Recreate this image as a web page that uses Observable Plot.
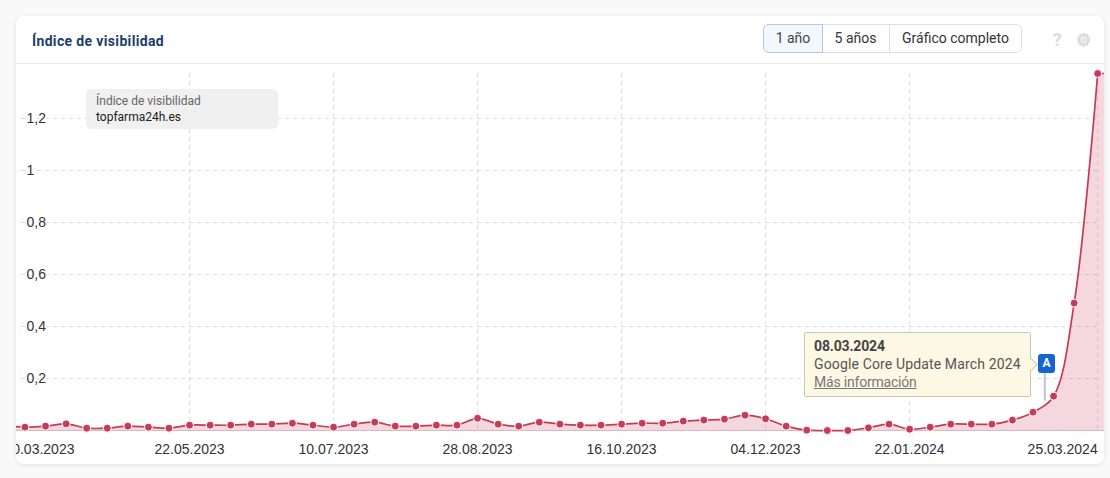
<!DOCTYPE html>
<html lang="es">
<head>
<meta charset="utf-8">
<script src="https://cdn.jsdelivr.net/npm/d3@7"></script>
<script src="https://cdn.jsdelivr.net/npm/@observablehq/plot@0.6"></script>
<style>
html,body{margin:0;padding:0;background:#f9f9f9;width:1110px;height:478px;overflow:hidden;font-family:Roboto,sans-serif}
#card{position:absolute;left:16px;top:16px;width:1088px;height:448px;background:#fff;border-radius:8px;box-shadow:0 1px 4px rgba(0,0,0,.1)}
#head{position:absolute;left:16px;top:16px;width:1088px;height:48px;box-sizing:border-box;border-bottom:1px solid #ececec}
#title{position:absolute;left:32px;top:32px;font:700 14px/18px Roboto,sans-serif;color:#1c3d6b;letter-spacing:.35px}
#chart{position:absolute;left:0;top:0}
#chart svg{display:block;clip-path:inset(16px 6px 14px 16px round 8px)}
.btn{position:absolute;top:24px;height:29px;box-sizing:border-box;border:1px solid #dfdfdf;font:14px/27px Roboto,sans-serif;color:#333;text-align:center;background:#fff}
#b1{left:763px;width:60px;border-color:#a9c9ef;background:#f3f8fe;border-radius:6px 0 0 6px;color:#444;z-index:1}
#b2{left:822px;width:68px;border-left:none}
#b3{left:889px;width:133px;border-radius:0 6px 6px 0}
#q{position:absolute;left:1052.5px;top:29.5px;font:700 19px/20px Roboto,sans-serif;color:#ddd}
#g{position:absolute;left:1076px;top:29px;font:17px/22px "DejaVu Sans",sans-serif;color:#ddd;-webkit-text-stroke:1.2px #ddd}
#legend{position:absolute;left:86px;top:89px;width:192px;height:40px;box-sizing:border-box;background:#f0f0f0;border-radius:5px;padding:4px 10px;font:12px/16px Roboto,sans-serif;color:#666}
#legend b{display:block;font-weight:400;color:#222}
#tip{position:absolute;left:804px;top:332px;width:227px;height:65px;box-sizing:border-box;background:#fdf8e4;border:1px solid #c6c5b6;border-radius:2px;padding:4px 9px;font:14px/18px Roboto,sans-serif;color:#555;white-space:nowrap;letter-spacing:.14px}
#tip strong{display:block;color:#444;letter-spacing:-.15px}
#tip u{color:#777;letter-spacing:-.2px}
#arrow{position:absolute;left:1026.5px;top:360px;width:8px;height:8px;background:#fdf8e4;border-top:1px solid #c6c5b6;border-right:1px solid #c6c5b6;transform:rotate(45deg)}
#flag{position:absolute;left:1038px;top:354px;width:17px;height:19px;background:#1366d0;border-radius:3px;color:#fff;font:700 12px/19px Roboto,sans-serif;text-align:center}
</style>
</head>
<body>
<div id="card"></div>
<div id="head"></div>
<div id="chart"></div>
<div id="title">Índice de visibilidad</div>
<div class="btn" id="b1">1 año</div>
<div class="btn" id="b2">5 años</div>
<div class="btn" id="b3">Gráfico completo</div>
<div id="q">?</div>
<div id="g">⚙</div>
<div id="legend">Índice de visibilidad<b>topfarma24h.es</b></div>
<div id="tip"><strong>08.03.2024</strong>Google Core Update March 2024<br><u>Más información</u></div>
<div id="arrow"></div>
<div id="flag">A</div>
<script>
const dates = ["2023-03-20","2023-03-27","2023-04-03","2023-04-10","2023-04-17","2023-04-24","2023-05-01","2023-05-08","2023-05-15","2023-05-22","2023-05-29","2023-06-05","2023-06-12","2023-06-19","2023-06-26","2023-07-03","2023-07-10","2023-07-17","2023-07-24","2023-07-31","2023-08-07","2023-08-14","2023-08-21","2023-08-28","2023-09-04","2023-09-11","2023-09-18","2023-09-25","2023-10-02","2023-10-09","2023-10-16","2023-10-23","2023-10-30","2023-11-06","2023-11-13","2023-11-20","2023-11-27","2023-12-04","2023-12-11","2023-12-18","2023-12-25","2024-01-01","2024-01-08","2024-01-15","2024-01-22","2024-01-29","2024-02-05","2024-02-12","2024-02-19","2024-02-26","2024-03-04","2024-03-11","2024-03-18","2024-03-26"];
const values = [0.019,0.0128,0.0167,0.0256,0.009,0.009,0.0167,0.0128,0.009,0.0205,0.0205,0.0205,0.0244,0.0244,0.028,0.0205,0.0128,0.0244,0.032,0.0167,0.0167,0.0205,0.0205,0.047,0.0244,0.0167,0.032,0.0244,0.0205,0.0205,0.0244,0.028,0.028,0.036,0.04,0.0436,0.059,0.045,0.0167,0.0013,0,0,0.0103,0.0244,0.005,0.0128,0.0244,0.0244,0.0244,0.04,0.0705,0.132,0.49,1.373];
const tailDates = ["2024-03-26","2024-04-02"];
const tailValues = [1.373,1.373];
const tickDates = ["2023-03-20","2023-05-22","2023-07-10","2023-08-28","2023-10-16","2023-12-04","2024-01-22","2024-03-26"];
const tickLabels = ["20.03.2023","22.05.2023","10.07.2023","28.08.2023","16.10.2023","04.12.2023","22.01.2024","25.03.2024"];
const yTicks = [0.2,0.4,0.6,0.8,1,1.2];
const yLabels = ["0,2","0,4","0,6","0,8","1","1,2"];
const eventDate = "2024-03-08";
const eventStem = [0.113,0.22];

const d = s => new Date(s + "T00:00:00Z");
const rows = dates.map((s,i) => ({date:d(s), value:values[i]}));
const tail = tailDates.map((s,i) => ({date:d(s), value:tailValues[i]}));
const ticks = tickDates.map((s,i) => ({date:d(s), label:tickLabels[i]}));
const yRows = yTicks.map((v,i) => ({v, label:yLabels[i]}));
const red = "#c63c58";
const grid = {stroke:"#dcdcdc", strokeDasharray:"4 4"};
const xText = {x:"date", y:()=>0, text:"label", dy:19, fill:"#333"};

const plot = Plot.plot({
  width:1110, height:478,
  marginLeft:21, marginRight:12, marginTop:73, marginBottom:48,
  style:{background:"transparent", fontFamily:"'Liberation Sans',Arial,sans-serif", fontSize:"14px"},
  x:{type:"utc", domain:[d("2023-03-20"), d("2024-01-22")], range:[3.9,909.1], axis:null},
  y:{domain:[0,1.373], axis:null},
  marks:[
    Plot.ruleY(yRows,{y:"v", ...grid}),
    Plot.ruleX(ticks.slice(1),{x:"date", ...grid}),
    Plot.areaY(rows,{x:"date", y:"value", curve:"catmull-rom", fill:red, fillOpacity:0.2}),
    Plot.areaY(tail,{x:"date", y:"value", fill:red, fillOpacity:0.2}),
    Plot.ruleY([0],{stroke:"#dcb6c1", x1:rows[0].date, x2:tail[1].date}),
    Plot.lineY(rows,{x:"date", y:"value", curve:"catmull-rom", stroke:red, strokeWidth:1.7}),
    Plot.lineY(tail,{x:"date", y:"value", stroke:red, strokeWidth:1.7}),
    Plot.dot(rows,{x:"date", y:"value", r:4, fill:red, stroke:"#fff", strokeWidth:1}),
    Plot.ruleX([d(eventDate)],{y1:eventStem[0], y2:eventStem[1], stroke:"#c4c4c4", strokeWidth:2}),
    Plot.text(yRows,{y:"v", text:"label", frameAnchor:"left", dx:5, textAnchor:"start", fill:"#333", stroke:"#fff", strokeWidth:3}),
    Plot.text(ticks.slice(0,1),{...xText, textAnchor:"start"}),
    Plot.text(ticks.slice(1,-1),{...xText, textAnchor:"middle"}),
    Plot.text(ticks.slice(-1),{...xText, textAnchor:"end"})
  ]
});
document.getElementById("chart").append(plot);
</script>
</body>
</html>
